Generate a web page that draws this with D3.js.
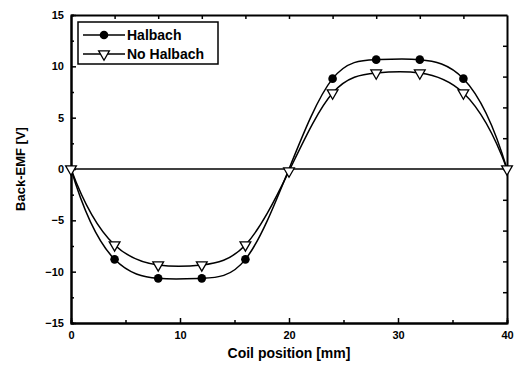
<!DOCTYPE html>
<meta charset="utf-8">
<style>
	body { margin: 0; background: #fff; }
	text { font-family: Arial, 'Liberation Sans', sans-serif; font-weight: bold; fill: #000; }
</style>
<script src="https://cdn.jsdelivr.net/npm/d3@7"></script>
<body>
<div id="chart"></div>
<script>
	// coil positions (mm) and back-EMF values (V)
	let positions = [0, 4, 8, 12, 16, 20, 24, 28, 32, 36, 40];
	let halbach = [0, -8.8, -10.65, -10.65, -8.8, 0, 8.8, 10.65, 10.65, 8.8, 0];
	let noHalbach = [0, -7.4, -9.35, -9.35, -7.4, -0.2, 7.4, 9.35, 9.35, 7.4, 0];
	let xTicks = [0, 10, 20, 30, 40];
	let yTicks = [-15, -10, -5, 0, 5, 10, 15];
	let seriesNames = ["Halbach", "No Halbach"];

	let width = 520, height = 365;
	let margin = { top: 15, right: 13, bottom: 42, left: 71 };

	// cubic spline curve with not-a-knot ends (like Origin's "Spline" connector)
	function SplineCurve(context) { this._context = context; }
	SplineCurve.prototype = {
		areaStart: function () { this._line = 0; },
		areaEnd: function () { this._line = NaN; },
		lineStart: function () { this._x = []; this._y = []; },
		point: function (x, y) { this._x.push(+x); this._y.push(+y); },
		lineEnd: function () {
			let xs = this._x, ys = this._y, n = xs.length, ctx = this._context;
			if (!n) return;
			ctx.moveTo(xs[0], ys[0]);
			if (n < 4) {
				for (let i = 1; i < n; i++) ctx.lineTo(xs[i], ys[i]);
				return;
			}
			let h = [];
			for (let i = 0; i < n - 1; i++) h.push(xs[i + 1] - xs[i]);
			// build system for second derivatives
			let A = [], b = [];
			for (let i = 0; i < n; i++) { A.push(new Array(n).fill(0)); b.push(0); }
			A[0][0] = h[1]; A[0][1] = -(h[0] + h[1]); A[0][2] = h[0];
			for (let i = 1; i < n - 1; i++) {
				A[i][i - 1] = h[i - 1];
				A[i][i] = 2 * (h[i - 1] + h[i]);
				A[i][i + 1] = h[i];
				b[i] = 6 * ((ys[i + 1] - ys[i]) / h[i] - (ys[i] - ys[i - 1]) / h[i - 1]);
			}
			A[n - 1][n - 3] = h[n - 2]; A[n - 1][n - 2] = -(h[n - 3] + h[n - 2]); A[n - 1][n - 1] = h[n - 3];
			// gaussian elimination
			for (let c = 0; c < n; c++) {
				let p = c;
				for (let r = c + 1; r < n; r++) if (Math.abs(A[r][c]) > Math.abs(A[p][c])) p = r;
				[A[c], A[p]] = [A[p], A[c]]; [b[c], b[p]] = [b[p], b[c]];
				for (let r = c + 1; r < n; r++) {
					let f = A[r][c] / A[c][c];
					for (let k = c; k < n; k++) A[r][k] -= f * A[c][k];
					b[r] -= f * b[c];
				}
			}
			let M = new Array(n).fill(0);
			for (let r = n - 1; r >= 0; r--) {
				let s = b[r];
				for (let k = r + 1; k < n; k++) s -= A[r][k] * M[k];
				M[r] = s / A[r][r];
			}
			for (let i = 0; i < n - 1; i++) {
				let hi = h[i], sl = (ys[i + 1] - ys[i]) / hi;
				let d0 = sl - hi * (2 * M[i] + M[i + 1]) / 6;
				let d1 = sl + hi * (M[i] + 2 * M[i + 1]) / 6;
				ctx.bezierCurveTo(xs[i] + hi / 3, ys[i] + d0 * hi / 3,
					xs[i + 1] - hi / 3, ys[i + 1] - d1 * hi / 3,
					xs[i + 1], ys[i + 1]);
			}
		}
	};
	let curveSpline = context => new SplineCurve(context);

	let svg = d3.select("#chart").append("svg")
		.attr("width", width)
		.attr("height", height);

	let x = d3.scaleLinear().domain([0, 40]).range([margin.left, width - margin.right]);
	let y = d3.scaleLinear().domain([-15, 15]).range([height - margin.bottom, margin.top]);

	// zero line
	svg.append("line")
		.attr("x1", x(0)).attr("x2", x(40))
		.attr("y1", y(0)).attr("y2", y(0))
		.attr("stroke", "#000").attr("stroke-width", 1.5);

	// axes, ticks pointing inward
	svg.append("g")
		.attr("transform", "translate(0," + y(-15) + ")")
		.call(d3.axisBottom(x).tickValues(xTicks).tickSizeInner(-5).tickSizeOuter(0).tickPadding(8));
	svg.append("g")
		.attr("transform", "translate(0," + y(-15) + ")")
		.call(d3.axisBottom(x).tickValues([5, 15, 25, 35]).tickSize(-3).tickFormat(""));

	svg.append("g")
		.attr("transform", "translate(" + x(0) + ",0)")
		.call(d3.axisLeft(y).tickValues(yTicks).tickSizeInner(-5).tickSizeOuter(0).tickPadding(7));
	svg.append("g")
		.attr("transform", "translate(" + x(0) + ",0)")
		.call(d3.axisLeft(y).tickValues([-12.5, -7.5, -2.5, 2.5, 7.5, 12.5]).tickSize(-3).tickFormat(""));

	svg.append("g")
		.attr("transform", "translate(0," + y(15) + ")")
		.call(d3.axisTop(x).tickValues(d3.range(4, 40, 4)).tickSize(-4).tickSizeOuter(0).tickFormat(""));
	svg.append("g")
		.attr("transform", "translate(" + x(40) + ",0)")
		.call(d3.axisRight(y).tickValues(d3.range(-12, 13, 3)).tickSize(-4).tickSizeOuter(0).tickFormat(""));

	svg.selectAll(".domain").attr("stroke", "#000").attr("stroke-width", 2);
	svg.selectAll(".tick line").attr("stroke", "#000").attr("stroke-width", 1.5);
	svg.selectAll(".tick text").style("font-size", "11px").style("font-weight", "bold");

	// axis titles
	svg.append("text")
		.attr("x", x(20))
		.attr("y", 358)
		.attr("text-anchor", "middle")
		.style("font-size", "14px")
		.text("Coil position [mm]");

	svg.append("text")
		.attr("transform", "translate(25," + y(0) + ") rotate(-90)")
		.attr("text-anchor", "middle")
		.style("font-size", "13px")
		.text("Back-EMF [V]");

	// curves
	let line = d3.line()
		.x(d => x(d[0]))
		.y(d => y(d[1]))
		.curve(curveSpline);

	let dataA = positions.map((p, i) => [p, halbach[i]]);
	let dataB = positions.map((p, i) => [p, noHalbach[i]]);

	[dataA, dataB].forEach(function (data) {
		svg.append("path")
			.datum(data)
			.attr("d", line)
			.attr("fill", "none")
			.attr("stroke", "#000")
			.attr("stroke-width", 1.5);
	});

	let tri = d3.symbol().type(d3.symbolTriangle).size(50);

	svg.append("g").selectAll("path")
		.data(dataB)
		.join("path")
		.attr("d", tri)
		.attr("transform", d => "translate(" + x(d[0]) + "," + y(d[1]) + ") rotate(180)")
		.attr("fill", "#fff")
		.attr("stroke", "#000")
		.attr("stroke-width", 1.3);

	svg.append("g").selectAll("circle")
		.data(dataA.filter(d => d[1] !== 0))
		.join("circle")
		.attr("cx", d => x(d[0]))
		.attr("cy", d => y(d[1]))
		.attr("r", 4.3)
		.attr("fill", "#000");

	// legend
	let legend = svg.append("g");
	legend.append("rect")
		.attr("x", 78).attr("y", 22)
		.attr("width", 140).attr("height", 42)
		.attr("fill", "#fff")
		.attr("stroke", "#000")
		.attr("stroke-width", 1.5);

	seriesNames.forEach(function (name, i) {
		let ly = 35 + i * 19;
		legend.append("line")
			.attr("x1", 83).attr("x2", 125)
			.attr("y1", ly).attr("y2", ly)
			.attr("stroke", "#000").attr("stroke-width", 1.3);
		if (i === 0) {
			legend.append("circle")
				.attr("cx", 104).attr("cy", ly).attr("r", 4.3).attr("fill", "#000");
		} else {
			legend.append("path")
				.attr("d", tri)
				.attr("transform", "translate(104," + ly + ") rotate(180)")
				.attr("fill", "#fff").attr("stroke", "#000").attr("stroke-width", 1.3);
		}
		legend.append("text")
			.attr("x", 127)
			.attr("y", ly + 5)
			.style("font-size", "14px")
			.text(name);
	});
</script>
</body>
